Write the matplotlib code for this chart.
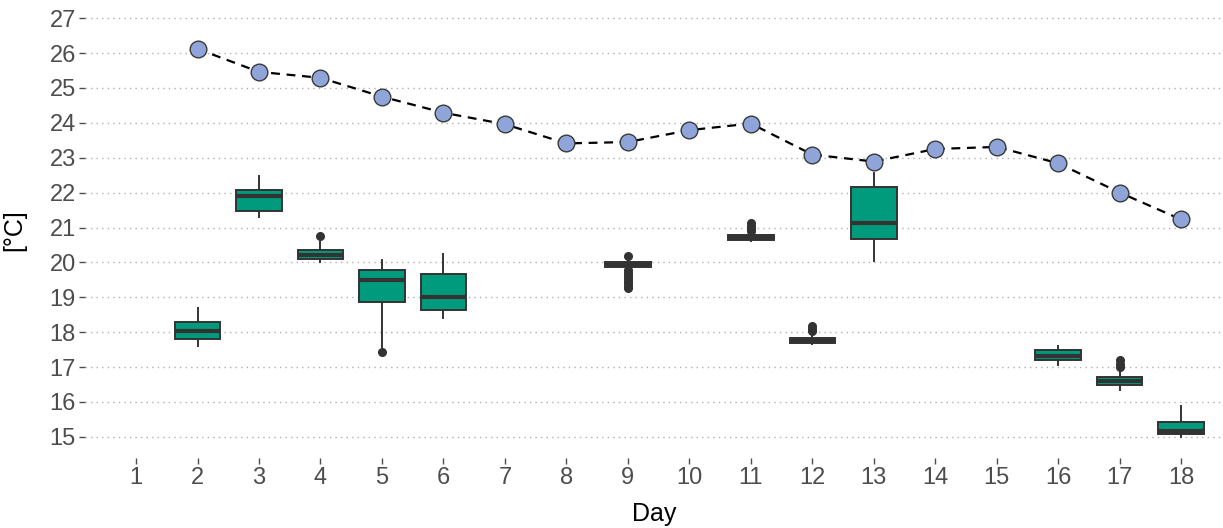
import numpy as np
import matplotlib.pyplot as plt

# Средняя температура по дням (линия)
line_days = [2, 3, 4, 5, 6, 7, 8, 9, 10, 11, 12, 13, 14, 15, 16, 17, 18]
line_temp = [26.12, 25.46, 25.29, 24.75, 24.29, 23.96, 23.41, 23.45, 23.79,
             23.98, 23.09, 22.89, 23.25, 23.31, 22.84, 22.0, 21.23]

# Статистика боксплотов
box_days = [2, 3, 4, 5, 6, 9, 11, 12, 13, 16, 17, 18]
whislo = [17.60, 21.30, 20.01, 17.57, 18.40, 19.84, 20.62, 17.65, 20.05, 17.07, 16.33, 15.00]
q1 = [17.79, 21.48, 20.09, 18.87, 18.64, 19.88, 20.65, 17.69, 20.67, 17.19, 16.48, 15.09]
med = [18.02, 21.91, 20.21, 19.50, 19.00, 19.95, 20.72, 17.76, 21.13, 17.33, 16.60, 15.18]
q3 = [18.30, 22.08, 20.35, 19.78, 19.68, 20.01, 20.79, 17.82, 22.15, 17.49, 16.71, 15.43]
whishi = [18.69, 22.49, 20.58, 20.07, 20.23, 20.07, 20.86, 17.90, 22.55, 17.59, 16.86, 15.88]
fliers = [[], [], [20.75], [17.42], [],
          [20.18, 19.78, 19.70, 19.62, 19.55, 19.48, 19.40, 19.33, 19.28],
          [21.13, 21.05, 20.97, 20.90], [18.18, 18.10, 18.02], [], [],
          [17.19, 17.10, 17.00], []]

all_days = list(range(1, 19))

plt.rcParams['font.family'] = ['Liberation Sans', 'DejaVu Sans']

fig = plt.figure(figsize=(12.23, 5.28), dpi=100)
ax = fig.add_axes([0.0695, 0.133, 0.930, 0.863])

stats = []
for i in range(len(box_days)):
    stats.append(dict(whislo=whislo[i], q1=q1[i], med=med[i], q3=q3[i],
                      whishi=whishi[i], fliers=fliers[i]))

ax.bxp(stats, positions=box_days, widths=0.74, patch_artist=True,
       showcaps=False,
       boxprops=dict(facecolor='#009B7D', edgecolor='#333333', linewidth=1.4),
       medianprops=dict(color='#333333', linewidth=3),
       whiskerprops=dict(color='#333333', linewidth=1.4),
       flierprops=dict(marker='o', markerfacecolor='#333333', markeredgecolor='#333333',
                       markersize=5.5))

ax.plot(line_days, line_temp, linestyle='--', color='black', linewidth=1.6,
        dashes=(4, 3), marker='o', markersize=12, markerfacecolor='#8FA4D8',
        markeredgecolor='#3a3a3a', markeredgewidth=1.0, zorder=5)

ax.set_xlim(0.17, 18.67)
ax.set_ylim(14.4, 27.46)
ax.set_xticks(all_days)
ax.set_xticklabels([str(d) for d in all_days])
ax.set_yticks(range(15, 28))

ax.grid(axis='y', linestyle=(0, (1, 3)), color='#b0b0b0', linewidth=1.0)
ax.set_axisbelow(True)
for s in ax.spines.values():
    s.set_visible(False)

ax.tick_params(axis='both', colors='#4D4D4D', labelsize=17, length=4.5, width=1, pad=2)
ax.set_xlabel('Day', fontsize=18, color='black')
ax.set_ylabel('[°C]', fontsize=18, color='black')
ax.yaxis.set_label_coords(-0.052, 0.5)
ax.xaxis.set_label_coords(0.5, -0.097)

plt.savefig('out.png', dpi=100)
